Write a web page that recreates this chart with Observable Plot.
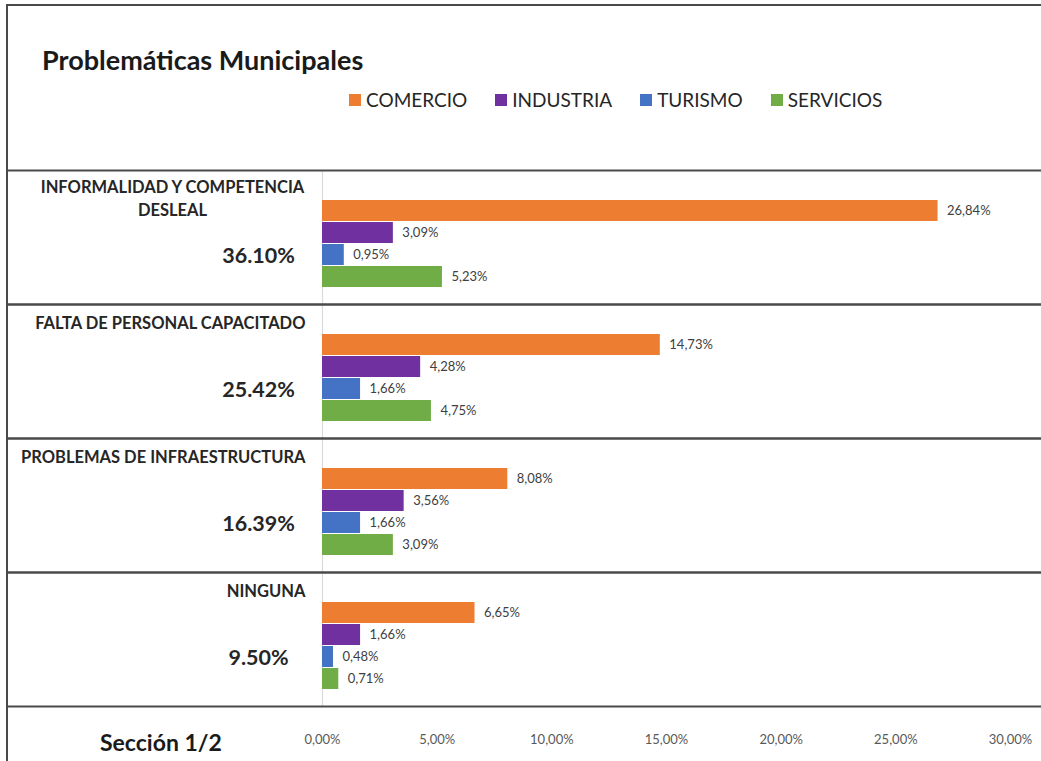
<!DOCTYPE html>
<html><head><meta charset="utf-8">
<script src="https://cdn.jsdelivr.net/npm/d3@7"></script>
<script src="https://cdn.jsdelivr.net/npm/@observablehq/plot@0.6"></script>
<style>
body{margin:0;background:#fff;width:1041px;height:761px;overflow:hidden;position:relative;font-family:Lato,"Open Sans",sans-serif;}
#frame{position:absolute;left:6px;top:4px;width:1060px;height:800px;border-left:2px solid #4a4a4a;border-top:2px solid #4a4a4a;}
#title{position:absolute;left:42px;top:46px;font-weight:bold;font-size:27px;color:#1a1a1a;line-height:1;}
#legend{position:absolute;left:349px;top:90px;display:flex;gap:28px;font-size:19px;color:#262626;line-height:1;}
.item{display:flex;align-items:center;gap:5px}
.sw{width:12px;height:12px;display:inline-block}
#chart{position:absolute;left:0;top:168px;}
#caption{position:absolute;left:100px;top:731px;font-weight:bold;font-size:23px;color:#1a1a1a;line-height:1;}
</style></head>
<body>
<div id="frame"></div>
<div id="title">Problemáticas Municipales</div>
<div id="legend"></div>
<div id="chart"></div>
<div id="caption">Sección 1/2</div>
<script>
const problems = ["INFORMALIDAD Y COMPETENCIA\nDESLEAL", "FALTA DE PERSONAL CAPACITADO", "PROBLEMAS DE INFRAESTRUCTURA", "NINGUNA"];
const totals = ["36.10%", "25.42%", "16.39%", "9.50%"];
const sectors = ["COMERCIO", "INDUSTRIA", "TURISMO", "SERVICIOS"];
const colors = ["#ED7D31", "#7030A0", "#4472C4", "#70AD47"];
const comercio = [26.84, 14.73, 8.08, 6.65];
const industria = [3.09, 4.28, 3.56, 1.66];
const turismo = [0.95, 1.66, 1.66, 0.48];
const servicios = [5.23, 4.75, 3.09, 0.71];
const xTicks = [0, 5, 10, 15, 20, 25, 30];

const series = [comercio, industria, turismo, servicios];
const rows = [];
problems.forEach((p, i) => sectors.forEach((s, j) => rows.push({problem: p, sector: s, value: series[j][i]})));
const groups = problems.map((p, i) => ({problem: p, total: totals[i]}));
const fmt = v => v.toFixed(2).replace(".", ",") + "%";

const legend = document.getElementById("legend");
sectors.forEach((s, j) => {
  const it = document.createElement("div"); it.className = "item";
  const sw = document.createElement("span"); sw.className = "sw"; sw.style.background = colors[j];
  const tx = document.createElement("span"); tx.textContent = s;
  it.append(sw, tx); legend.append(it);
});

const chart = Plot.plot({
  width: 1041, height: 593,
  marginTop: 2, marginBottom: 55, marginLeft: 322, marginRight: 31,
  style: {fontFamily: "Lato, sans-serif", overflow: "visible", background: "transparent"},
  x: {domain: [0, 30], axis: null},
  y: {domain: sectors, padding: 0.04, insetTop: 28, insetBottom: 14, axis: null},
  fy: {domain: problems, padding: 0, axis: null},
  color: {domain: sectors, range: colors},
  marks: [
    Plot.ruleX([0], {stroke: "#d9d9d9", strokeWidth: 1.2}),
    Plot.barX(rows, {fy: "problem", y: "sector", x: "value", fill: "sector"}),
    Plot.text(rows, {fy: "problem", y: "sector", x: "value", text: d => fmt(d.value), textAnchor: "start", dx: 9, fontSize: 13, fill: "#404040"}),
    Plot.text(groups.filter(d => d.problem.includes("\n")), {fy: "problem", text: "problem", frameAnchor: "top-left", textAnchor: "middle", lineAnchor: "top", dx: -150, dy: 7, fontWeight: "bold", fontSize: 16.5, lineHeight: 1.35, fill: "#262626"}),
    Plot.text(groups.filter(d => !d.problem.includes("\n")), {fy: "problem", text: "problem", frameAnchor: "top-left", textAnchor: "end", lineAnchor: "top", dx: -17, dy: 13, fontWeight: "bold", fontSize: 16.5, fill: "#262626"}),
    Plot.text(groups, {fy: "problem", text: "total", frameAnchor: "left", textAnchor: "middle", dx: -64, dy: 19, fontWeight: "bold", fontSize: 21.5, fill: "#262626"}),
    Plot.frame({anchor: "top", insetLeft: -315, insetRight: -31, stroke: "#4a4a4a", strokeWidth: 2}),
    Plot.frame({anchor: "bottom", insetLeft: -315, insetRight: -31, stroke: "#4a4a4a", strokeWidth: 2}),
    Plot.axisX({ticks: xTicks, tickFormat: fmt, tickSize: 0, tickPadding: 28, fontSize: 13, fill: "#595959", label: null})
  ]
});
document.getElementById("chart").append(chart);
</script>
</body></html>
